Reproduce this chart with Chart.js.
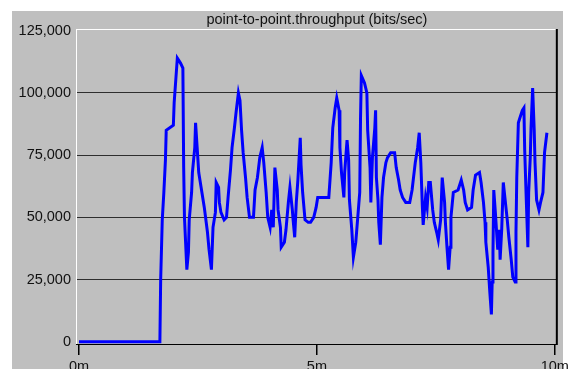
<!DOCTYPE html>
<html>
<head>
<meta charset="utf-8">
<script src="https://cdn.jsdelivr.net/npm/chart.js@4"></script>
<style>
html,body{margin:0;padding:0;background:#fff;overflow:hidden}
#wrap{position:absolute;left:0;top:0;width:572px;height:400px}
</style>
</head>
<body>
<div id="wrap"><canvas id="chart" width="572" height="400"></canvas></div>
<script>
// DATA

const TITLE = "point-to-point.throughput (bits/sec)"

// seconds since start
const times = [
0,102,103,104,105,107,109,110,119,120,
122,124,128,131,132,133,136,138,139,142,
143,146,147,149,151,154,158,162,164,167,
169,172,173,176,177,179,183,186,188,191,
193,196,198,201,203,205,207,210,212,215,
220,222,225,228,231,233,236,238,241,243,
245,247,250,251,254,255,259,261,264,266,
269,270,272,274,276,279,280,282,285,289,
292,296,299,301,315,318,320,323,325,328,
329,331,334,335,338,340,341,344,346,349,
350,354,355,356,360,363,364,367,368,370,
373,374,375,377,378,380,382,384,387,389,
393,398,400,403,405,408,412,417,420,424,
427,429,431,433,434,437,439,441,443,446,
448,451,453,456,458,461,462,464,466,468,
469,472,478,482,485,487,490,495,497,500,
505,507,510,512,513,516,518,520,521,522,
523,525,527,528,530,531,533,535,537,540,
542,545,547,550,551,552,554,556,559,561,
562,564,566,567,569,570,572,574,575,577,
580,582,585,586,587,590
]

// bits/sec
const throughput = [
0,0,25000,37000,49000,60000,73000,85000,87000,96000,
105000,114000,112000,110000,70000,50000,29000,36000,49000,60000,
68000,78000,88000,78000,68000,62000,54000,44000,37000,29000,
46000,52000,64000,62000,56000,52000,49000,50000,58000,69000,
78000,86000,92000,100000,97000,85000,76000,66000,58000,50000,
50000,61000,66000,74000,78000,72000,60000,50000,46000,53000,
46000,70000,61000,53000,46000,38000,40000,45000,56000,62000,
53000,49000,42000,56000,65000,82000,71000,60000,49000,48000,
48000,50000,54000,58000,58000,72000,86000,94000,98000,93000,
78000,68000,58000,68000,81000,73000,57000,45000,34000,40000,
44000,60000,90000,107000,104000,100000,85000,70000,56000,74000,
86000,93000,66000,57000,48000,39000,58000,66000,72000,74000,
76000,76000,70000,65000,61000,58000,56000,56000,61000,72000,
78000,84000,72000,54000,47000,58000,54000,64000,64000,53000,
48000,44000,41000,49000,66000,56000,48000,38000,29000,38000,
50000,60000,61000,65000,61000,56000,53000,54000,61000,67000,
68000,64000,56000,48000,40000,30000,20000,11000,24000,36000,
61000,52000,42000,37000,45000,33000,45000,64000,58000,49000,
42000,33000,26000,24000,44000,66000,88000,90000,93000,94000,
77000,57000,38000,60000,74000,86000,102000,85000,72000,57000,
53000,56000,60000,68000,76000,84000
]

const yTicks = [0,25000,50000,75000,100000,125000]
const xTicks = [0,300,600]
const xLabels = ["0m","5m","10m"]

const FONT = {family:"'Liberation Sans', Arial, sans-serif", size:14.5}


// FRAME PLUGIN

const frame = {
id:'frame',
beforeDraw(chart){
const c = chart.ctx
c.save()
c.fillStyle = '#fff'
c.fillRect(0,0,chart.width,chart.height)
c.fillStyle = '#bfbfbf'
c.fillRect(12,11,551,chart.height)
c.restore()
},
beforeDatasetsDraw(chart){
const c = chart.ctx
const a = chart.chartArea
c.save()
c.fillStyle = '#fff'
c.fillRect(a.left-1,a.top,a.right-a.left,1)
c.fillRect(a.left-1,a.top,1,a.bottom-a.top)
c.fillStyle = '#000'
c.fillRect(a.right-1,a.top,2,a.bottom-a.top+1)
c.fillRect(a.left-1,a.bottom,a.right-a.left+1,1)
c.restore()
},
afterDraw(chart){
const c = chart.ctx
const a = chart.chartArea
c.save()
c.fillStyle = '#111'
c.font = FONT.size + 'px ' + FONT.family
c.textAlign = 'center'
c.textBaseline = 'middle'
c.fillText(TITLE,(a.left+a.right)/2,20)
c.restore()
}
}


// CHART

const ctx = document.getElementById('chart')

new Chart(ctx,{
type:'line',
data:{
datasets:[{
label:TITLE,
data:times.map((t,i)=>({x:t,y:throughput[i]})),
borderColor:'#0000ff',
borderWidth:3,
pointRadius:0,
tension:0,
fill:false
}]
},
options:{
responsive:false,
animation:false,
layout:{padding:{left:0,top:29,right:13,bottom:0}},
plugins:{legend:{display:false},tooltip:{enabled:false}},
scales:{
x:{
type:'linear',
min:-2.5,
max:602.5,
afterBuildTicks:s=>{s.ticks = xTicks.map(v=>({value:v}))},
afterFit:s=>{s.height = 400-344},
ticks:{
callback:v=>xLabels[xTicks.indexOf(v)],
color:'#111',
font:FONT,
padding:3,
maxRotation:0,
autoSkip:false
},
grid:{drawOnChartArea:false,drawTicks:true,tickLength:11,color:'#000',lineWidth:1.5},
border:{display:false}
},
y:{
min:-900,
max:125700,
afterBuildTicks:s=>{s.ticks = yTicks.map(v=>({value:v}))},
afterFit:s=>{s.width = 77},
ticks:{
callback:v=>v.toLocaleString('en-US'),
color:'#111',
font:FONT,
padding:6
},
grid:{
drawTicks:false,
lineWidth:1,
color:c=>(c.tick && (c.tick.value===0 || c.tick.value===125000)) ? 'rgba(0,0,0,0)' : '#2e2e2e'
},
border:{display:false}
}
}
},
plugins:[frame]
})
</script>
</body>
